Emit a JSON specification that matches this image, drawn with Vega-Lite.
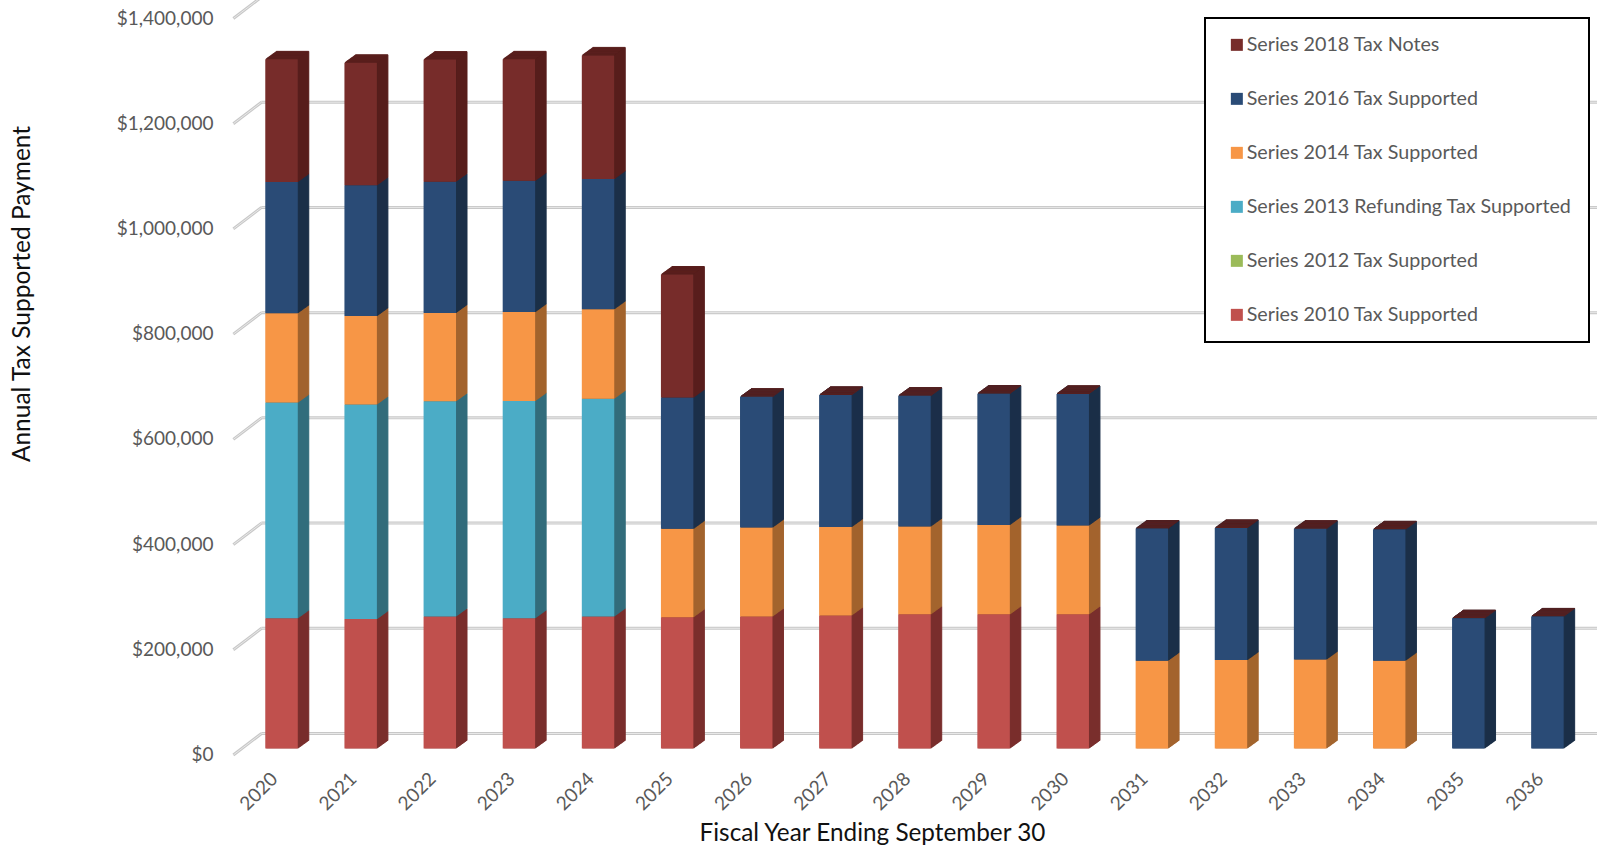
{"$schema":"https://vega.github.io/schema/vega-lite/v6.json","width":1345,"height":736.5,"autosize":"none","padding":{"left":242,"top":12,"right":10,"bottom":102.5},"background":"white","config":{"view":{"stroke":null},"font":"Lato","legend":{"strokeWidth":2}},
"datasets":{"ticks":[{"tick":0},{"tick":200000},{"tick":400000},{"tick":600000},{"tick":800000},{"tick":1000000},{"tick":1200000},{"tick":1400000}],
"rows":[
{"year":"2020","series":"Series 2010 Tax Supported","amount":247500},{"year":"2020","series":"Series 2013 Refunding Tax Supported","amount":410000},{"year":"2020","series":"Series 2014 Tax Supported","amount":170000},{"year":"2020","series":"Series 2016 Tax Supported","amount":249500},{"year":"2020","series":"Series 2018 Tax Notes","amount":233000},
{"year":"2021","series":"Series 2010 Tax Supported","amount":246000},{"year":"2021","series":"Series 2013 Refunding Tax Supported","amount":408000},{"year":"2021","series":"Series 2014 Tax Supported","amount":168000},{"year":"2021","series":"Series 2016 Tax Supported","amount":248500},{"year":"2021","series":"Series 2018 Tax Notes","amount":233000},
{"year":"2022","series":"Series 2010 Tax Supported","amount":251000},{"year":"2022","series":"Series 2013 Refunding Tax Supported","amount":409000},{"year":"2022","series":"Series 2014 Tax Supported","amount":168000},{"year":"2022","series":"Series 2016 Tax Supported","amount":249500},{"year":"2022","series":"Series 2018 Tax Notes","amount":232000},
{"year":"2023","series":"Series 2010 Tax Supported","amount":247500},{"year":"2023","series":"Series 2013 Refunding Tax Supported","amount":413000},{"year":"2023","series":"Series 2014 Tax Supported","amount":169000},{"year":"2023","series":"Series 2016 Tax Supported","amount":249500},{"year":"2023","series":"Series 2018 Tax Notes","amount":231000},
{"year":"2024","series":"Series 2010 Tax Supported","amount":251000},{"year":"2024","series":"Series 2013 Refunding Tax Supported","amount":414000},{"year":"2024","series":"Series 2014 Tax Supported","amount":170000},{"year":"2024","series":"Series 2016 Tax Supported","amount":247500},{"year":"2024","series":"Series 2018 Tax Notes","amount":235000},
{"year":"2025","series":"Series 2010 Tax Supported","amount":249500},{"year":"2025","series":"Series 2014 Tax Supported","amount":168000},{"year":"2025","series":"Series 2016 Tax Supported","amount":249500},{"year":"2025","series":"Series 2018 Tax Notes","amount":234000},
{"year":"2026","series":"Series 2010 Tax Supported","amount":251000},{"year":"2026","series":"Series 2014 Tax Supported","amount":169000},{"year":"2026","series":"Series 2016 Tax Supported","amount":248500},{"year":"2026","series":"Series 2018 Tax Notes","amount":0},
{"year":"2027","series":"Series 2010 Tax Supported","amount":253000},{"year":"2027","series":"Series 2014 Tax Supported","amount":168000},{"year":"2027","series":"Series 2016 Tax Supported","amount":251000},{"year":"2027","series":"Series 2018 Tax Notes","amount":0},
{"year":"2028","series":"Series 2010 Tax Supported","amount":255000},{"year":"2028","series":"Series 2014 Tax Supported","amount":167000},{"year":"2028","series":"Series 2016 Tax Supported","amount":248500},{"year":"2028","series":"Series 2018 Tax Notes","amount":0},
{"year":"2029","series":"Series 2010 Tax Supported","amount":255000},{"year":"2029","series":"Series 2014 Tax Supported","amount":170000},{"year":"2029","series":"Series 2016 Tax Supported","amount":249500},{"year":"2029","series":"Series 2018 Tax Notes","amount":0},
{"year":"2030","series":"Series 2010 Tax Supported","amount":255000},{"year":"2030","series":"Series 2014 Tax Supported","amount":169000},{"year":"2030","series":"Series 2016 Tax Supported","amount":250000},{"year":"2030","series":"Series 2018 Tax Notes","amount":0},
{"year":"2031","series":"Series 2014 Tax Supported","amount":167000},{"year":"2031","series":"Series 2016 Tax Supported","amount":251000},{"year":"2031","series":"Series 2018 Tax Notes","amount":0},
{"year":"2032","series":"Series 2014 Tax Supported","amount":168000},{"year":"2032","series":"Series 2016 Tax Supported","amount":251000},{"year":"2032","series":"Series 2018 Tax Notes","amount":0},
{"year":"2033","series":"Series 2014 Tax Supported","amount":169000},{"year":"2033","series":"Series 2016 Tax Supported","amount":248500},{"year":"2033","series":"Series 2018 Tax Notes","amount":0},
{"year":"2034","series":"Series 2014 Tax Supported","amount":167000},{"year":"2034","series":"Series 2016 Tax Supported","amount":249500},{"year":"2034","series":"Series 2018 Tax Notes","amount":0},
{"year":"2035","series":"Series 2016 Tax Supported","amount":247500},{"year":"2035","series":"Series 2018 Tax Notes","amount":0},
{"year":"2036","series":"Series 2016 Tax Supported","amount":251000},{"year":"2036","series":"Series 2018 Tax Notes","amount":0}
]},
"layer":[
{"data":{"name":"ticks"},"layer":[
{"mark":{"type":"rule","xOffset":-4,"x2Offset":59,"yOffset":-15,"stroke":"#c8c8c8","strokeWidth":3},"encoding":{"x":{"datum":"2020","type":"ordinal","bandPosition":0},"x2":{"datum":"2036"},"y":{"field":"tick","type":"quantitative","scale":{"domain":[0,1400000]}}}},
{"mark":{"type":"rule","xOffset":-4,"x2Offset":59,"yOffset":-15,"stroke":"#e8e8e8","strokeWidth":1},"encoding":{"x":{"datum":"2020","type":"ordinal","bandPosition":0},"x2":{"datum":"2036"},"y":{"field":"tick","type":"quantitative"}}},
{"mark":{"type":"rule","xOffset":-32,"x2Offset":-20,"yOffset":6.5,"y2Offset":-15,"stroke":"#c8c8c8","strokeWidth":3},"encoding":{"x":{"datum":"2020","type":"ordinal","bandPosition":0},"x2":{"datum":"2020"},"y":{"field":"tick","type":"quantitative"},"y2":{"field":"tick"}}},
{"mark":{"type":"rule","xOffset":-32,"x2Offset":-20,"yOffset":6.5,"y2Offset":-15,"stroke":"#e8e8e8","strokeWidth":1},"encoding":{"x":{"datum":"2020","type":"ordinal","bandPosition":0},"x2":{"datum":"2020"},"y":{"field":"tick","type":"quantitative"},"y2":{"field":"tick"}}}
]},
{"data":{"name":"rows"},
"encoding":{
"x":{"field":"year","type":"ordinal","scale":{"paddingInner":0.59,"paddingOuter":0.295},"axis":{"title":"Fiscal Year Ending September 30","titleFont":"Lato","titleFontSize":24.3,"titleFontWeight":"normal","titleColor":"#111111","titleX":630,"titleY":85,"titleBaseline":"middle","labelFontSize":19,"labelColor":"#595959","labelAngle":-45,"labelPadding":27,"labelOffset":-7,"tickSize":0,"domain":false,"ticks":false}},
"y":{"field":"amount","type":"quantitative","stack":"zero","axis":{"title":"Annual Tax Supported Payment","titleFont":"Lato","titleFontSize":24.5,"titleFontWeight":"normal","titleColor":"#111111","titleX":-220,"titleY":281.5,"titleBaseline":"middle","format":"$,.0f","labelFontSize":19,"labelColor":"#595959","labelPadding":29,"labelOffset":6,"tickSize":0,"ticks":false,"domain":false,"grid":false,"values":[0,200000,400000,600000,800000,1000000,1200000,1400000]}},
"order":{"field":"series","sort":"ascending"}
},
"layer":[
{"encoding":{
"fill":{"field":"series","type":"nominal","legend":null,"scale":{"domain":["Series 2010 Tax Supported","Series 2012 Tax Supported","Series 2013 Refunding Tax Supported","Series 2014 Tax Supported","Series 2016 Tax Supported","Series 2018 Tax Notes"],"range":["#7a2f2d","#6a8040","#336d7c","#a3642e","#1c3049","#4f1c1b"]}},
"stroke":{"field":"series","type":"nominal","legend":null,"scale":{"domain":["Series 2010 Tax Supported","Series 2012 Tax Supported","Series 2013 Refunding Tax Supported","Series 2014 Tax Supported","Series 2016 Tax Supported","Series 2018 Tax Notes"],"range":["#7a2f2d","#6a8040","#336d7c","#a3642e","#1c3049","#5a1f1d"]}}
},
"layer":[
{"mark":{"type":"bar","xOffset":11,"yOffset":-8,"strokeWidth":1}},
{"mark":{"type":"bar","xOffset":10,"yOffset":-7.3,"strokeWidth":1}},
{"mark":{"type":"bar","xOffset":9,"yOffset":-6.5,"strokeWidth":1}},
{"mark":{"type":"bar","xOffset":8,"yOffset":-5.8,"strokeWidth":1}},
{"mark":{"type":"bar","xOffset":7,"yOffset":-5.1,"strokeWidth":1}},
{"mark":{"type":"bar","xOffset":6,"yOffset":-4.4,"strokeWidth":1}},
{"mark":{"type":"bar","xOffset":5,"yOffset":-3.6,"strokeWidth":1}},
{"mark":{"type":"bar","xOffset":4,"yOffset":-2.9,"strokeWidth":1}},
{"mark":{"type":"bar","xOffset":3,"yOffset":-2.2,"strokeWidth":1}},
{"mark":{"type":"bar","xOffset":2,"yOffset":-1.5,"strokeWidth":1}},
{"mark":{"type":"bar","xOffset":1,"yOffset":-0.7,"strokeWidth":1}}
]},
{"mark":{"type":"bar"},"encoding":{"color":{"field":"series","type":"nominal","scale":{"domain":["Series 2018 Tax Notes","Series 2016 Tax Supported","Series 2014 Tax Supported","Series 2013 Refunding Tax Supported","Series 2012 Tax Supported","Series 2010 Tax Supported"],"range":["#772c2a","#2a4b76","#f79646","#4bacc6","#9bbb59","#c0504d"]},"legend":{"title":null,"orient":"none","legendX":963,"legendY":6,"padding":17,"strokeColor":"#000000","fillColor":"white","symbolType":"square","symbolSize":144,"symbolOffset":5,"symbolStrokeWidth":0,"labelFont":"Lato","labelFontSize":19.7,"labelColor":"#595959","labelOffset":0,"labelLimit":400,"rowPadding":33,"labelBaseline":"middle","values":["Series 2018 Tax Notes","Series 2016 Tax Supported","Series 2014 Tax Supported","Series 2013 Refunding Tax Supported","Series 2012 Tax Supported","Series 2010 Tax Supported"]}}}}
]}
]}
